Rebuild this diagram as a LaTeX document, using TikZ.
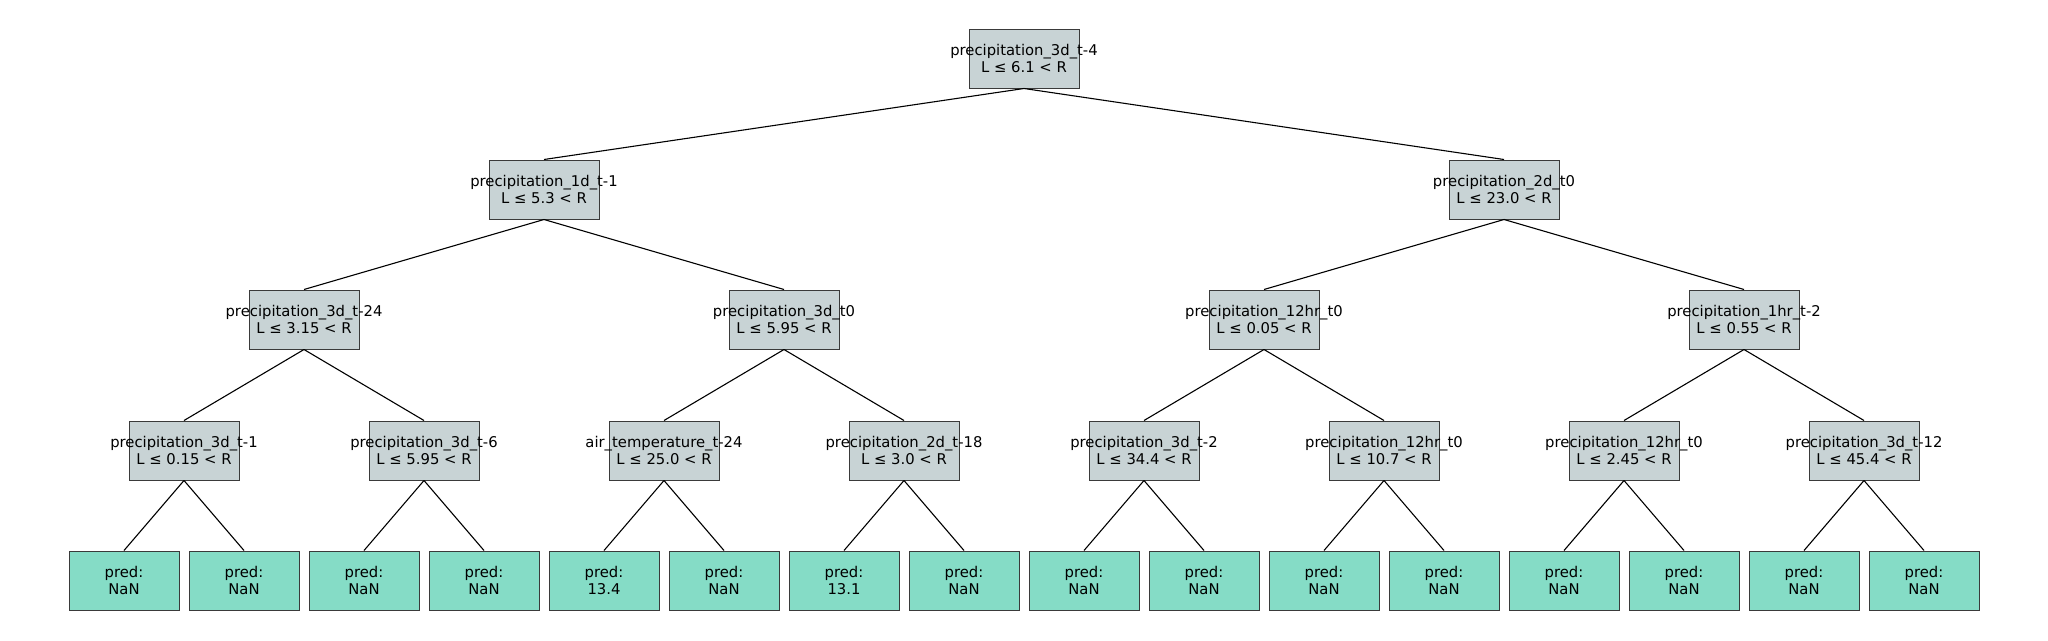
\documentclass[tikz,border=0pt]{standalone}
\usepackage{fontspec}
\setmainfont{DejaVu Sans}
\definecolor{splitfill}{HTML}{C8D3D5}
\definecolor{leaffill}{HTML}{85DCC6}
\definecolor{boxline}{HTML}{3A3A3A}
\newcommand{\splitlbl}[2]{\makebox[0pt]{#1}\\\makebox[0pt]{#2}}
\begin{document}
\begin{tikzpicture}[x=1pt, y=-1pt,
  splitbox/.style={rectangle, draw=boxline, line width=1pt, fill=splitfill, minimum width=110pt, minimum height=59pt, inner sep=0pt, align=center, font=\fontsize{14.8}{16.5}\selectfont},
  leafbox/.style={rectangle, draw=boxline, line width=1pt, fill=leaffill, minimum width=110pt, minimum height=59pt, inner sep=0pt, align=center, font=\fontsize{14.8}{16.5}\selectfont},
  edge/.style={draw=black, line width=1.1pt}]
\useasboundingbox (0,0) rectangle (2048,640);
\node[splitbox] (nid0) at (1024,58.5){\splitlbl{precipitation\_3d\_t-4}{L ≤ 6.1 < R}};
\node[splitbox] (nid1) at (544,189.5){\splitlbl{precipitation\_1d\_t-1}{L ≤ 5.3 < R}};
\node[splitbox] (nid2) at (1504,189.5){\splitlbl{precipitation\_2d\_t0}{L ≤ 23.0 < R}};
\draw[edge] (nid0.south) -- (nid1.north);
\draw[edge] (nid0.south) -- (nid2.north);
\node[splitbox] (nid3) at (304,319.5){\splitlbl{precipitation\_3d\_t-24}{L ≤ 3.15 < R}};
\node[splitbox] (nid4) at (784,319.5){\splitlbl{precipitation\_3d\_t0}{L ≤ 5.95 < R}};
\node[splitbox] (nid5) at (1264,319.5){\splitlbl{precipitation\_12hr\_t0}{L ≤ 0.05 < R}};
\node[splitbox] (nid6) at (1744,319.5){\splitlbl{precipitation\_1hr\_t-2}{L ≤ 0.55 < R}};
\draw[edge] (nid1.south) -- (nid3.north);
\draw[edge] (nid1.south) -- (nid4.north);
\draw[edge] (nid2.south) -- (nid5.north);
\draw[edge] (nid2.south) -- (nid6.north);
\node[splitbox] (nid7) at (184,450.5){\splitlbl{precipitation\_3d\_t-1}{L ≤ 0.15 < R}};
\node[splitbox] (nid8) at (424,450.5){\splitlbl{precipitation\_3d\_t-6}{L ≤ 5.95 < R}};
\node[splitbox] (nid9) at (664,450.5){\splitlbl{air\_temperature\_t-24}{L ≤ 25.0 < R}};
\node[splitbox] (nid10) at (904,450.5){\splitlbl{precipitation\_2d\_t-18}{L ≤ 3.0 < R}};
\node[splitbox] (nid11) at (1144,450.5){\splitlbl{precipitation\_3d\_t-2}{L ≤ 34.4 < R}};
\node[splitbox] (nid12) at (1384,450.5){\splitlbl{precipitation\_12hr\_t0}{L ≤ 10.7 < R}};
\node[splitbox] (nid13) at (1624,450.5){\splitlbl{precipitation\_12hr\_t0}{L ≤ 2.45 < R}};
\node[splitbox] (nid14) at (1864,450.5){\splitlbl{precipitation\_3d\_t-12}{L ≤ 45.4 < R}};
\draw[edge] (nid3.south) -- (nid7.north);
\draw[edge] (nid3.south) -- (nid8.north);
\draw[edge] (nid4.south) -- (nid9.north);
\draw[edge] (nid4.south) -- (nid10.north);
\draw[edge] (nid5.south) -- (nid11.north);
\draw[edge] (nid5.south) -- (nid12.north);
\draw[edge] (nid6.south) -- (nid13.north);
\draw[edge] (nid6.south) -- (nid14.north);
\node[leafbox] (lid0) at (124,580.5){pred:\\NaN};
\node[leafbox] (lid1) at (244,580.5){pred:\\NaN};
\node[leafbox] (lid2) at (364,580.5){pred:\\NaN};
\node[leafbox] (lid3) at (484,580.5){pred:\\NaN};
\node[leafbox] (lid4) at (604,580.5){pred:\\13.4};
\node[leafbox] (lid5) at (724,580.5){pred:\\NaN};
\node[leafbox] (lid6) at (844,580.5){pred:\\13.1};
\node[leafbox] (lid7) at (964,580.5){pred:\\NaN};
\node[leafbox] (lid8) at (1084,580.5){pred:\\NaN};
\node[leafbox] (lid9) at (1204,580.5){pred:\\NaN};
\node[leafbox] (lid10) at (1324,580.5){pred:\\NaN};
\node[leafbox] (lid11) at (1444,580.5){pred:\\NaN};
\node[leafbox] (lid12) at (1564,580.5){pred:\\NaN};
\node[leafbox] (lid13) at (1684,580.5){pred:\\NaN};
\node[leafbox] (lid14) at (1804,580.5){pred:\\NaN};
\node[leafbox] (lid15) at (1924,580.5){pred:\\NaN};
\draw[edge] (nid7.south) -- (lid0.north);
\draw[edge] (nid7.south) -- (lid1.north);
\draw[edge] (nid8.south) -- (lid2.north);
\draw[edge] (nid8.south) -- (lid3.north);
\draw[edge] (nid9.south) -- (lid4.north);
\draw[edge] (nid9.south) -- (lid5.north);
\draw[edge] (nid10.south) -- (lid6.north);
\draw[edge] (nid10.south) -- (lid7.north);
\draw[edge] (nid11.south) -- (lid8.north);
\draw[edge] (nid11.south) -- (lid9.north);
\draw[edge] (nid12.south) -- (lid10.north);
\draw[edge] (nid12.south) -- (lid11.north);
\draw[edge] (nid13.south) -- (lid12.north);
\draw[edge] (nid13.south) -- (lid13.north);
\draw[edge] (nid14.south) -- (lid14.north);
\draw[edge] (nid14.south) -- (lid15.north);
\end{tikzpicture}
\end{document}
